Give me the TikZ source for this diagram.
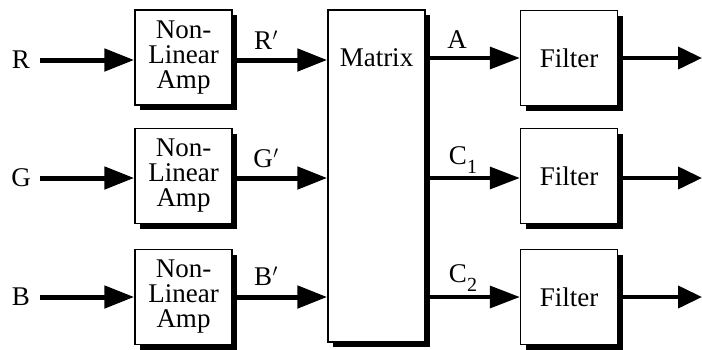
\documentclass[tikz,border=0pt]{standalone}
\usepackage{fontspec}
\setmainfont{Liberation Serif}
\usetikzlibrary{arrows.meta,shadows}
\tikzset{
  blk/.style={draw=black, line width=1.5pt, fill=white, inner sep=0pt,
    minimum width=97pt, minimum height=95pt, align=center,
    font=\fontsize{27}{25}\selectfont,
    drop shadow={shadow xshift=5pt, shadow yshift=-5pt, fill=black, opacity=1}},
  lbl/.style={font=\fontsize{27}{27}\selectfont, inner sep=0pt},
  thickarr/.style={line width=5pt, -{Triangle[length=30pt,width=22pt]}},
  midarr/.style={line width=3.5pt, -{Triangle[length=30pt,width=22pt]}},
  outarr/.style={line width=4pt, -{Triangle[length=24pt,width=22pt]}}
}
\newcommand{\pr}{\kern0.5pt$^{\prime}$}
\newcommand{\sub}[1]{\raisebox{-0.35em}{\fontsize{20}{20}\selectfont #1}}
\begin{document}
\begin{tikzpicture}[x=1pt,y=-1pt]
\useasboundingbox (0,0) rectangle (702,349);
% amplifiers
\node[blk] (a1) at (183.5,57.5) {Non-\\Linear\\Amp};
\node[blk] (a2) at (183.5,176) {Non-\\Linear\\Amp};
\node[blk] (a3) at (183.5,297) {Non-\\Linear\\Amp};
% matrix
\node[blk, minimum height=332pt] (m) at (376.5,176) {};
\node[lbl] (mt) at (376.5,58) {Matrix};
% filters
\node[blk] (f1) at (569,58) {Filter};
\node[blk] (f2) at (569,176) {Filter};
\node[blk] (f3) at (569,297) {Filter};
% inputs
\node[lbl] (r) at (21,60) {R};
\node[lbl] (g) at (21,178) {G};
\node[lbl] (b) at (21,297) {B};
\coordinate (ri) at (40,60);
\coordinate (gi) at (40,178);
\coordinate (bi) at (40,297);
\draw[thickarr] (ri) -- (a1.west |- ri);
\draw[thickarr] (gi) -- (a2.west |- gi);
\draw[thickarr] (bi) -- (a3.west |- bi);
% amp to matrix
\draw[thickarr] (a1.east |- ri) -- (m.west |- ri);
\draw[thickarr] (a2.east |- gi) -- (m.west |- gi);
\draw[thickarr] (a3.east |- bi) -- (m.west |- bi);
\node[lbl] (rp) at (266,40) {R\pr};
\node[lbl] (gp) at (266,158) {G\pr};
\node[lbl] (bp) at (266,276) {B\pr};
% matrix to filters
\coordinate (o1) at (430,58);
\coordinate (o2) at (430,178);
\coordinate (o3) at (430,297);
\draw[midarr] (o1) -- (f1.west |- o1);
\draw[midarr] (o2) -- (f2.west |- o2);
\draw[midarr] (o3) -- (f3.west |- o3);
\node[lbl] (la) at (457,40) {A};
\node[lbl] (lc1) at (463,160) {C\sub{1}};
\node[lbl] (lc2) at (463,278) {C\sub{2}};
% outputs
\coordinate (e1) at (702,58);
\coordinate (e2) at (702,178);
\coordinate (e3) at (702,297);
\draw[outarr] (f1.east |- e1) -- (e1);
\draw[outarr] (f2.east |- e2) -- (e2);
\draw[outarr] (f3.east |- e3) -- (e3);
\end{tikzpicture}
\end{document}
